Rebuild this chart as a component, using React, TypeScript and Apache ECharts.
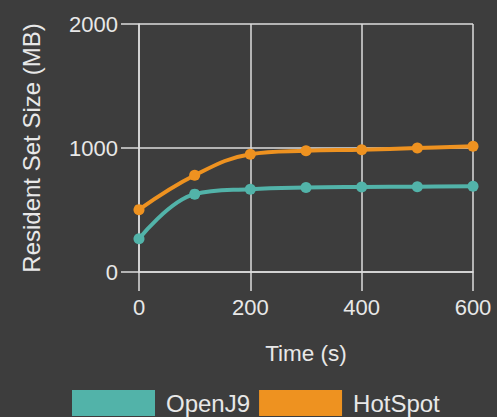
import React, { useEffect, useRef } from "react";
import * as echarts from "echarts";

const times = [0, 100, 200, 300, 400, 500, 600];
const openJ9 = [268, 628, 668, 682, 686, 688, 692];
const hotSpot = [503, 780, 950, 978, 986, 1000, 1015];
const xTicks = [0, 200, 400, 600];
const yTicks = [0, 1000, 2000];

const BG = "#3d3d3d";
const FG = "#e8e8e8";
const GRID = "#dcdcdc";
const TEAL = "#52b3a9";
const ORANGE = "#ee9220";
const FONT = "'Liberation Sans', Arial, sans-serif";

export default function App() {
  const ref = useRef<HTMLDivElement>(null);
  useEffect(() => {
    if (!ref.current) return;
    const chart = echarts.init(ref.current, null, { renderer: "svg" });
    chart.setOption({
      animation: false,
      backgroundColor: BG,
      textStyle: { fontFamily: FONT, color: FG },
      grid: { left: 139, right: 24, top: 24, bottom: 145, containLabel: false },
      legend: {
        left: 72,
        top: 390,
        padding: 0,
        icon: "rect",
        itemWidth: 83,
        itemHeight: 26,
        itemGap: 9,
        textStyle: { color: FG, fontSize: 24, fontFamily: FONT, padding: [0, 0, 0, 6] },
        data: ["OpenJ9", "HotSpot"],
      },
      xAxis: {
        type: "value",
        min: xTicks[0],
        max: xTicks[xTicks.length - 1],
        interval: 200,
        name: "Time (s)",
        nameLocation: "middle",
        nameGap: 70,
        nameTextStyle: { color: FG, fontSize: 22.5, fontFamily: FONT },
        axisLine: { show: true, lineStyle: { color: GRID, width: 1.5 } },
        axisTick: { show: true, length: 19, lineStyle: { color: GRID, width: 1.5 } },
        axisLabel: { color: FG, fontSize: 22, margin: 24, fontFamily: FONT, formatter: (v: number) => String(v) },
        splitLine: { show: true, lineStyle: { color: GRID, width: 1.5 } },
      },
      yAxis: {
        type: "value",
        min: yTicks[0],
        max: yTicks[yTicks.length - 1],
        interval: 1000,
        name: "Resident Set Size (MB)",
        nameLocation: "middle",
        nameGap: 96,
        nameRotate: 90,
        nameTextStyle: { color: FG, fontSize: 24, fontFamily: FONT },
        axisLine: { show: true, lineStyle: { color: GRID, width: 1.5 } },
        axisTick: { show: true, length: 18, lineStyle: { color: GRID, width: 1.5 } },
        axisLabel: { color: FG, fontSize: 22, margin: 21, fontFamily: FONT, formatter: (v: number) => String(v) },
        splitLine: { show: true, lineStyle: { color: GRID, width: 1.5 } },
      },
      series: [
        {
          name: "OpenJ9",
          type: "line",
          data: times.map((t, i) => [t, openJ9[i]]),
          smooth: 0.4,
          symbol: "circle",
          symbolSize: 11,
          itemStyle: { color: TEAL },
          lineStyle: { color: TEAL, width: 4 },
        },
        {
          name: "HotSpot",
          type: "line",
          data: times.map((t, i) => [t, hotSpot[i]]),
          smooth: 0.4,
          symbol: "circle",
          symbolSize: 11,
          itemStyle: { color: ORANGE },
          lineStyle: { color: ORANGE, width: 4 },
        },
      ],
    });
    return () => chart.dispose();
  }, []);
  return <div ref={ref} style={{ width: 497, height: 417, position: "absolute", left: 0, top: 0 }} />;
}
